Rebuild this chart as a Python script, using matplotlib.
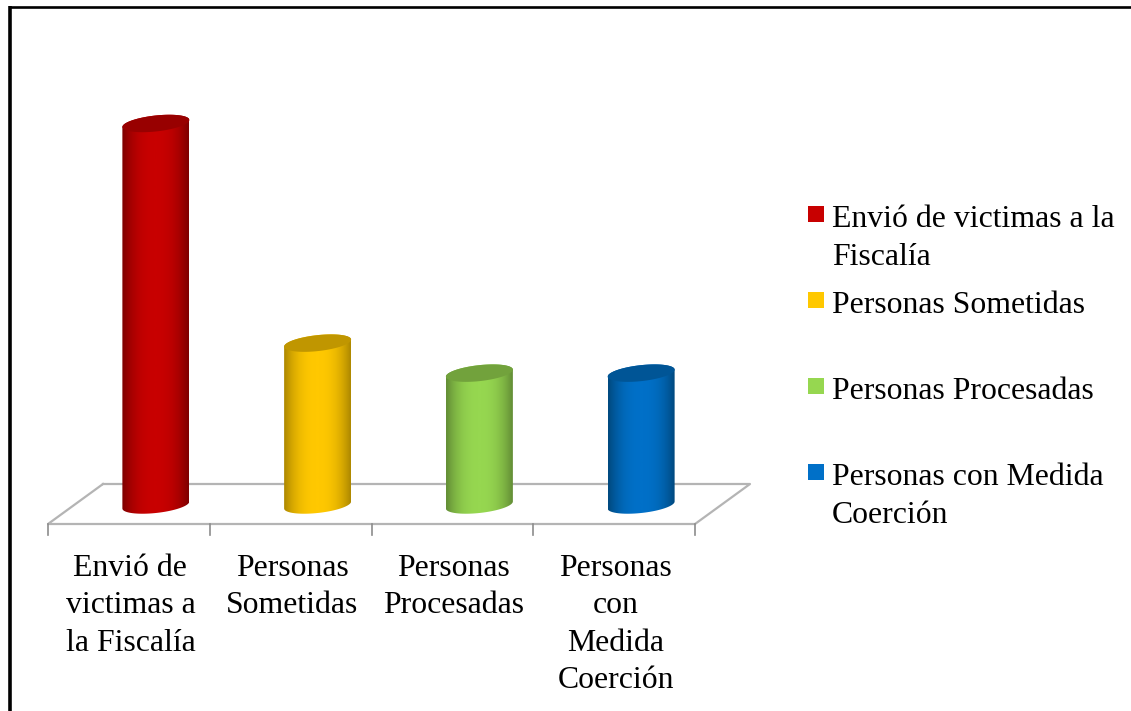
import matplotlib
matplotlib.use('Agg')
import matplotlib.pyplot as plt
from matplotlib.colors import LinearSegmentedColormap
from matplotlib.patches import Polygon, Rectangle
import numpy as np

plt.rcParams['font.family'] = ['Liberation Serif']

# data (no axis in the original, so relative height)
categories = ['Envió de\nvictimas a\nla Fiscalía', 'Personas\nSometidas',
              'Personas\nProcesadas', 'Personas\ncon\nMedida\nCoerción']
legend_labels = ['Envió de victimas a la\nFiscalía', 'Personas Sometidas',
                 'Personas Procesadas', 'Personas con Medida\nCoerción']
values = [100.4, 42.6, 34.7, 34.7]
colors = ['#c80000', '#ffc800', '#96d750', '#0070c8']
tops = ['#980000', '#c09600', '#72a23c', '#005596']
edges = ['#800000', '#b08a00', '#648f36', '#004a80']

W, H = 1131, 711
px_x = 161.75   # pixels per category
px_y = 3.8      # pixels per value unit
x0_px, y0_px = 48, 505

fig = plt.figure(figsize=(W/100, H/100), dpi=100)
ax = fig.add_axes([0, 0, 1, 1])
ax.axis('off')


# ---- floor
floor = '#b4b4b4'
front = -19/px_y
back = 21/px_y
dx = 55/px_x
ax.plot([dx, 0, 4, 4+dx, dx], [back, front, front, back, back], color=floor, lw=1.6, zorder=1)
for i in range(5):
    ax.plot([i, i], [front, front-11/px_y], color='#8c8c8c', lw=1.2, zorder=1)


# ---- cylinders
def ellipse(cx, cy, a, b, k, t):
    return cx + a*np.cos(t), cy + (b*np.sin(t) + k*np.cos(t))


a = 33.5/px_x
b = 8/px_y
k = 3.5/px_y
for i, v in enumerate(values):
    cx = i + 0.5 + 27/px_x
    # outline of body: top half of the top ellipse, bottom half of the base
    t1 = np.linspace(0, np.pi, 40)
    t2 = np.linspace(np.pi, 2*np.pi, 40)
    xt, yt = ellipse(cx, v, a, b, k, t1)
    xb, yb = ellipse(cx, 0, a, b, k, t2)
    body = Polygon(np.c_[np.r_[xt, xb], np.r_[yt, yb]], transform=ax.transData,
                   facecolor='none', edgecolor='none')
    ax.add_patch(body)
    grad = np.abs(np.linspace(-1, 1, 41).reshape(1, -1))**2.4
    cmap2 = LinearSegmentedColormap.from_list('c2', [colors[i], edges[i]])
    im = ax.imshow(grad, extent=[cx-a, cx+a, -10, v+10], aspect='auto', cmap=cmap2,
                   interpolation='bilinear', vmin=0, vmax=1, zorder=3)
    im.set_clip_path(body)
    xe, ye = ellipse(cx, v, a, b, k, np.linspace(0, 2*np.pi, 80))
    ax.add_patch(Polygon(np.c_[xe, ye], facecolor=tops[i], edgecolor='none', zorder=4))

ax.set_xlim(-x0_px/px_x, (W-x0_px)/px_x)
ax.set_ylim((y0_px-H)/px_y, y0_px/px_y)

# ---- category labels
fs = 22.9
ls = 1.39
for i, c in enumerate(categories):
    ax.text(i+0.5+1.5/px_x, (y0_px-553.5)/px_y, c, ha='center', va='top', fontsize=fs,
            linespacing=ls, color='black')

# ---- legend, in pixel positions of the figure
tr = fig.transFigure
leg_y = [214, 300, 386, 472]
for y, lab, col in zip(leg_y, legend_labels, colors):
    fig.add_artist(Rectangle((808/W, 1-(y+8)/H), 16/W, 16/H, transform=tr, facecolor=col, edgecolor='none'))
    fig.text(832/W, 1-(y-9)/H, lab, ha='left', va='top', fontsize=fs, linespacing=ls, color='black')

# ---- frame of the picture
fig.add_artist(plt.Line2D([9.5/W, 9.5/W], [0, 1-6/H], transform=tr, color='black', lw=2.6, solid_capstyle='butt'))
fig.add_artist(plt.Line2D([9.5/W, 1], [1-7/H, 1-7/H], transform=tr, color='black', lw=1.9, solid_capstyle='butt'))

fig.savefig('out.png', dpi=100)
